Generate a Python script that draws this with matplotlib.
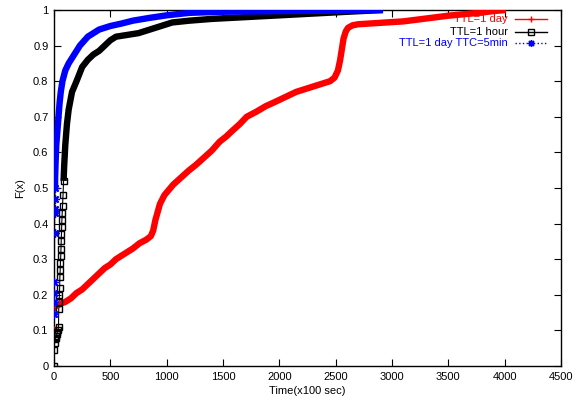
import matplotlib
matplotlib.use("Agg")
import matplotlib.pyplot as plt
import numpy as np

plt.rcParams['font.family'] = ['Liberation Sans', 'DejaVu Sans']

# ---- data ----
red_label = "TTL=1 day"
red_x = [0, 0, 5, 20, 60, 100, 150, 200, 250, 300, 350, 400, 450, 500, 550, 600, 650, 700,
         760, 820, 860, 880, 900, 940, 980, 1060, 1130, 1200, 1260, 1330, 1400, 1470, 1530,
         1580, 1650, 1710, 1800, 1880, 1950, 2050, 2150, 2250, 2300, 2400, 2450, 2490, 2520,
         2540, 2555, 2570, 2590, 2610, 2650, 2700, 2800, 2900, 3000, 3100, 3200, 3300, 3400,
         3500, 3600, 3700, 3800, 3900, 4010]
red_y = [0.10, 0.15, 0.165, 0.17, 0.175, 0.18, 0.19, 0.205, 0.215, 0.23, 0.245, 0.26, 0.275,
         0.285, 0.30, 0.31, 0.32, 0.33, 0.345, 0.355, 0.365, 0.38, 0.41, 0.455, 0.48, 0.51,
         0.53, 0.55, 0.565, 0.585, 0.605, 0.63, 0.645, 0.66, 0.68, 0.70, 0.715, 0.73, 0.74,
         0.755, 0.77, 0.78, 0.785, 0.795, 0.80, 0.81, 0.83, 0.86, 0.89, 0.92, 0.94, 0.95,
         0.957, 0.96, 0.962, 0.964, 0.966, 0.968, 0.972, 0.976, 0.98, 0.984, 0.987, 0.99,
         0.993, 0.997, 1.0]

black_label = "TTL=1 hour"
black_x = [0, 0, 5, 10, 15, 20, 25, 30, 35, 40, 42, 45, 48, 50, 52, 55, 57, 60, 62, 64, 66,
           68, 70, 73, 76, 80, 85, 90, 100, 115, 130, 160, 200, 250, 300, 350, 400, 450, 500,
           550, 650, 750, 850, 950, 1050, 1200, 1400, 1700, 2000, 2300, 2600, 2920]
black_y = [0.0, 0.045, 0.065, 0.075, 0.08, 0.085, 0.09, 0.095, 0.10, 0.11, 0.16, 0.18, 0.20,
           0.22, 0.25, 0.27, 0.29, 0.31, 0.33, 0.35, 0.37, 0.39, 0.41, 0.43, 0.45, 0.48, 0.52,
           0.56, 0.62, 0.68, 0.72, 0.77, 0.80, 0.84, 0.86, 0.875, 0.885, 0.90, 0.915, 0.925,
           0.93, 0.935, 0.945, 0.955, 0.965, 0.97, 0.975, 0.98, 0.985, 0.99, 0.995, 1.0]

blue_label = "TTL=1 day TTC=5min"
blue_x = [0, 2, 3, 4, 5, 6, 7, 8, 9, 10, 15, 20, 30, 40, 50, 60, 75, 100, 130, 170, 230, 300,
          400, 500, 600, 700, 850, 1000, 1200, 1500, 2000, 2500, 2920]
blue_y = [0.145, 0.18, 0.205, 0.235, 0.375, 0.43, 0.44, 0.47, 0.50, 0.53, 0.58, 0.62, 0.66,
          0.70, 0.74, 0.77, 0.80, 0.83, 0.85, 0.87, 0.90, 0.925, 0.945, 0.955, 0.962, 0.97,
          0.978, 0.985, 0.992, 0.995, 0.997, 0.998, 1.0]

x_ticks = [0, 500, 1000, 1500, 2000, 2500, 3000, 3500, 4000, 4500]
y_ticks = [0, 0.1, 0.2, 0.3, 0.4, 0.5, 0.6, 0.7, 0.8, 0.9, 1]
y_tick_labels = ["0", "0.1", "0.2", "0.3", "0.4", "0.5", "0.6", "0.7", "0.8", "0.9", "1"]

RED, BLACK, BLUE = "#ff0000", "#000000", "#0000ff"
asterisk = (8, 2, 0)

fig = plt.figure(figsize=(5.78, 4.03), dpi=100)
ax = fig.add_axes([54 / 578, 1 - 366 / 403, 507 / 578, 356 / 403])

# index where each curve becomes densely sampled (drawn as a thick band)
red_dense, black_dense, blue_dense = 2, 26, 8

series = [
    (red_x, red_y, RED, '+', red_dense, 6),
    (black_x, black_y, BLACK, 's', black_dense, 5),
    (blue_x, blue_y, BLUE, asterisk, blue_dense, 6),
]
for xs, ys, col, mk, k, ms in series:
    ax.plot(xs, ys, color=col, lw=0.8, zorder=2)
    ax.plot(xs[k:], ys[k:], color=col, lw=4.6, solid_capstyle='butt', zorder=3)
    ax.plot(xs[:k + 1], ys[:k + 1], ls='none', marker=mk, ms=ms, mew=1.0,
            mfc='none', mec=col, color=col, zorder=4)

ax.set_xlim(0, 4500)
ax.set_ylim(0, 1)
ax.set_xticks(x_ticks)
ax.set_yticks(y_ticks)
ax.set_yticklabels(y_tick_labels)
ax.tick_params(direction='in', length=5, width=0.8, top=True, right=True,
               labelsize=8, colors='black', pad=4)
for s in ax.spines.values():
    s.set_linewidth(1.0)
ax.set_xlabel("Time(x100 sec)", fontsize=8, labelpad=3)
ax.set_ylabel("F(x)", fontsize=8, labelpad=6)

# gnuplot-style key: right-aligned text, sample to the right
key_rows = [
    (red_label, RED, '-', '+', 0.9739),
    (black_label, BLACK, '-', 's', 0.9390),
    (blue_label, BLUE, ':', asterisk, 0.9081),
]
for lab, col, ls, mk, yy in key_rows:
    ax.text(0.8955, yy, lab, transform=ax.transAxes, ha='right', va='center',
            fontsize=8, color=col, zorder=6)
    ax.plot([0.9093, 0.9724], [yy, yy], transform=ax.transAxes, color=col, ls=ls,
            lw=1.0, clip_on=False, zorder=6)
    ax.plot([0.9408], [yy], transform=ax.transAxes, marker=mk, ms=5, mfc='none',
            mec=col, mew=1.0, ls='none', clip_on=False, zorder=6)

fig.savefig("out.png", dpi=100)
